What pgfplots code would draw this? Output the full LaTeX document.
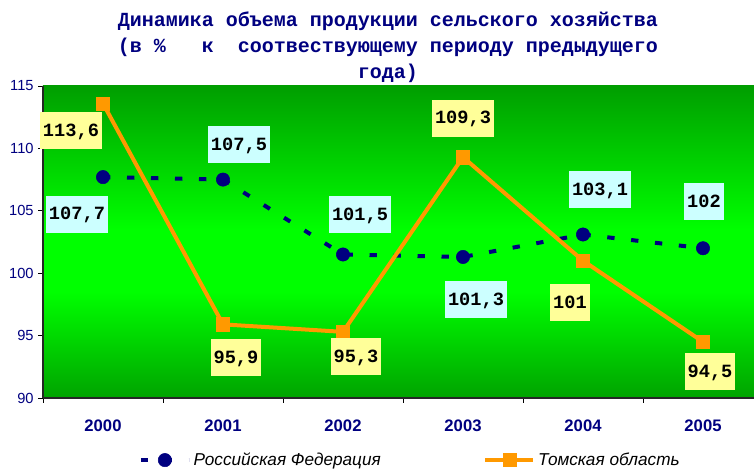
\documentclass[border=0pt]{standalone}
\usepackage{pgfplots}
\usepackage{pgfplotstable}
\pgfplotsset{compat=1.18}
\usepackage{fontspec}
\setmainfont{Liberation Sans}
\newfontfamily\cour{Liberation Mono}
\definecolor{navyc}{HTML}{000080}
\definecolor{orng}{HTML}{FF9900}
\definecolor{cyanbox}{HTML}{CCFFFF}
\definecolor{yelbox}{HTML}{FFFF99}
\pgfdeclareverticalshading{greengrad}{100bp}{rgb(0bp)=(0,0.64,0); rgb(25bp)=(0,0.64,0); rgb(42bp)=(0,1,0); rgb(52bp)=(0,1,0); rgb(75bp)=(0,0.62,0); rgb(100bp)=(0,0.62,0)}
\newcommand{\lab}{\cour\bfseries\fontsize{14}{14}\selectfont}

\pgfplotstableread{
x y
0 107.7
1 107.5
2 101.5
3 101.3
4 103.1
5 102
}\rf
\pgfplotstableread{
x y
0 113.6
1 95.9
2 95.3
3 109.3
4 101
5 94.5
}\tomsk

% label: fill, x, y, text, xshift, yshift
\newcommand{\lbl}[6]{\addplot[draw=none, mark=none, forget plot,
    nodes near coords={#4},
    every node near coord/.append style={anchor=center, xshift=#5, yshift=#6,
      fill=#1, text=black, font=\lab, inner xsep=2.3pt, inner ysep=0pt,
      minimum height=27.75pt, text height=8.7pt, text depth=0pt}]
  coordinates {(#2,#3)};}

\begin{document}
\begin{tikzpicture}
\useasboundingbox (0,0) rectangle (565.5pt,353.25pt);
\begin{axis}[
  at={(32.25pt,54.75pt)}, anchor=south west,
  scale only axis, width=533.25pt, height=234pt,
  xmin=-0.5, xmax=5.425, ymin=90, ymax=115,
  axis x line*=bottom, axis y line*=left,
  axis line style={black!85, line width=0.8pt},
  axis background/.style={shading=greengrad},
  tick align=outside, major tick length=3.5pt,
  tick style={black, line width=0.6pt},
  xtick={-0.5,0.5,1.5,2.5,3.5,4.5}, xticklabels={},
  extra x ticks={0,1,2,3,4,5},
  extra x tick labels={2000,2001,2002,2003,2004,2005},
  extra x tick style={major tick length=0pt},
  x tick label style={font=\bfseries\fontsize{12.5}{12.5}\selectfont, text=navyc, yshift=-13pt},
  ytick={90,95,100,105,110,115},
  y tick label style={font=\fontsize{11}{11}\selectfont, text=navyc},
  /pgf/number format/assume math mode=true,
  legend columns=2,
  legend style={at={(0.517,-0.199)}, anchor=center, draw=none, fill=none,
    font=\itshape\fontsize{12.9}{12.9}\selectfont,
    /tikz/every even column/.append style={column sep=75pt}},
  legend image code/.code={\draw[mark repeat=2, mark phase=2, #1] plot coordinates {(0pt,0pt) (18pt,0pt) (36pt,0pt)};},
]
\addplot[navyc, line width=3pt, dash pattern=on 5.5pt off 12.5pt,
  mark=*, mark size=5pt, mark options={solid, line width=0.4pt, fill=navyc}]
  table[x=x, y=y] {\rf};
\addlegendentry{Российская Федерация}
\addplot[orng, line width=3pt,
  mark=square*, mark size=5pt, mark options={solid, line width=0.4pt, fill=orng}]
  table[x=x, y=y] {\tomsk};
\addlegendentry{Томская область}
\lbl{cyanbox}{0}{107.7}{107,7}{-19.5pt}{-27.75pt}
\lbl{cyanbox}{1}{107.5}{107,5}{12pt}{26.25pt}
\lbl{cyanbox}{2}{101.5}{101,5}{12.75pt}{30pt}
\lbl{cyanbox}{3}{101.3}{101,3}{9.75pt}{-32.25pt}
\lbl{cyanbox}{4}{103.1}{103,1}{12.75pt}{33.75pt}
\lbl{cyanbox}{5}{102}{102}{0.75pt}{35.25pt}
\lbl{yelbox}{0}{113.6}{113,6}{-24pt}{-20.25pt}
\lbl{yelbox}{1}{95.9}{95,9}{9.75pt}{-24.75pt}
\lbl{yelbox}{2}{95.3}{95,3}{9.75pt}{-18.75pt}
\lbl{yelbox}{3}{109.3}{109,3}{0pt}{29.25pt}
\lbl{yelbox}{4}{101}{101}{-9.75pt}{-31.5pt}
\lbl{yelbox}{5}{94.5}{94,5}{5.25pt}{-22.5pt}
\end{axis}
\begin{scope}[every node/.style={anchor=base, text=navyc, font=\cour\bfseries\fontsize{15}{15}\selectfont, inner sep=0pt}]
\node at (291pt,333pt) {Динамика объема продукции сельского хозяйства};
\node at (291pt,313.5pt) {(в~\%~~~к~~соотвествующему периоду предыдущего};
\node at (291pt,294pt) {года)};
\end{scope}
\end{tikzpicture}
\end{document}
